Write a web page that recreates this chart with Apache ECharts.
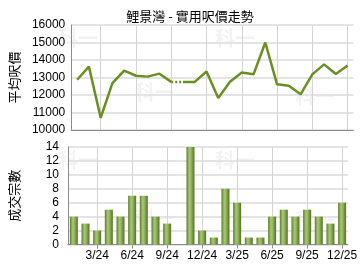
<!DOCTYPE html>
<html><head><meta charset="utf-8">
<script src="https://cdn.jsdelivr.net/npm/echarts@6/dist/echarts.min.js"></script>
<style>html,body{margin:0;padding:0;background:#fff}#c{width:360px;height:270px}</style>
</head><body><div id="c"></div>
<script>
const months = ['1/24','2/24','3/24','4/24','5/24','6/24','7/24','8/24','9/24','10/24','11/24','12/24',
                '1/25','2/25','3/25','4/25','5/25','6/25','7/25','8/25','9/25','10/25','11/25','12/25'];
const price = [12870,13620,10700,12680,13390,13100,13050,13220,12750,12750,12750,13340,
               11830,12760,13280,13180,15000,12610,12530,12040,13180,13750,13200,13680];
const deals = [4,3,2,5,4,7,7,4,3,0,14,2,1,8,6,1,1,4,5,4,5,4,3,6];
const tickLabels = ['3/24','6/24','9/24','12/24','3/25','6/25','9/25','12/25'];
const gapIndex = 9; // month shown with dotted segment (no deals)

const solidA = price.map((v,i)=> i < gapIndex ? v : null);
const solidB = price.map((v,i)=> i >= gapIndex ? v : null);
const dotted = price.map((v,i)=> (i === gapIndex-1 || i === gapIndex) ? v : null);

const chart = echarts.init(document.getElementById('c'), null, {renderer:'canvas'});
const font = 'Liberation Sans, Arial, sans-serif';
const showLabel = (i, v) => tickLabels.indexOf(v) >= 0;
const splitIdx = (i, v) => tickLabels.indexOf(months[i]) >= 0;

const xCommon = {
  type:'category', data: months, boundaryGap:true,
  axisLine:{show:true, lineStyle:{color:'#8c8c8c', width:1}},
  splitLine:{show:true, alignWithLabel:true, interval: splitIdx, lineStyle:{color:'#d4d4d4', width:1}},
};
const wm = (x,y)=>({type:'text', left:x, top:y, z:0, silent:true,
  style:{text:'科一', fill:'rgba(0,0,0,0.05)', font:'bold 20px "Noto Sans CJK TC"'}});

chart.setOption({
  animation:false,
  title:{text:'鯉景灣 - 實用呎價走勢', left:185, textAlign:'center', top:5,
    textStyle:{fontFamily:'"Noto Sans CJK TC", sans-serif', fontSize:13, fontWeight:'normal', color:'#000'}},
  graphic:[wm(58,28), wm(215,28), wm(135,82), wm(295,86), wm(58,150), wm(215,150), wm(135,208), wm(295,210)],
  grid:[
    {left:68, right:6.5, top:25, height:105},
    {left:68, right:6.5, top:147, height:97.5}
  ],
  xAxis:[
    Object.assign({gridIndex:0, axisTick:{show:false}, axisLabel:{show:false}}, xCommon),
    Object.assign({gridIndex:1,
      axisTick:{show:true, alignWithLabel:true, interval: splitIdx, length:4, lineStyle:{color:'#8c8c8c'}},
      axisLabel:{show:true, interval: showLabel, fontSize:12, fontFamily:font, color:'#000', margin:5}}, xCommon)
  ],
  yAxis:[
    {gridIndex:0, type:'value', min:10000, max:16000, interval:1000,
     name:'平均呎價', nameLocation:'middle', nameGap:47, nameRotate:90,
     nameTextStyle:{fontFamily:'"Noto Sans CJK TC", sans-serif', fontSize:13, color:'#000'},
     axisLine:{show:true, lineStyle:{color:'#8c8c8c'}}, axisTick:{show:false},
     axisLabel:{fontSize:12, fontFamily:font, color:'#000', margin:6, formatter:(v)=>String(v)},
     splitLine:{lineStyle:{color:'#e4e4e4', width:2}}},
    {gridIndex:1, type:'value', min:0, max:14, interval:2,
     name:'成交宗數', nameLocation:'middle', nameGap:47, nameRotate:90,
     nameTextStyle:{fontFamily:'"Noto Sans CJK TC", sans-serif', fontSize:13, color:'#000'},
     axisLine:{show:true, lineStyle:{color:'#8c8c8c'}}, axisTick:{show:false},
     axisLabel:{fontSize:12, fontFamily:font, color:'#000', margin:9},
     splitLine:{lineStyle:{color:'#e4e4e4', width:2}}}
  ],
  series:[
    {type:'line', xAxisIndex:0, yAxisIndex:0, data:solidA, symbol:'none', connectNulls:false,
     lineStyle:{color:'#6b8e23', width:2.5}},
    {type:'line', xAxisIndex:0, yAxisIndex:0, data:solidB, symbol:'none', connectNulls:false,
     lineStyle:{color:'#6b8e23', width:2.5}},
    {type:'line', xAxisIndex:0, yAxisIndex:0, data:dotted, symbol:'none', connectNulls:false,
     lineStyle:{color:'#6b8e23', width:2.5, type:[2,2]}},
    {type:'bar', xAxisIndex:1, yAxisIndex:1, data:deals, barWidth:8,
     itemStyle:{color:new echarts.graphic.LinearGradient(0,0,1,0,[
       {offset:0, color:'#5a7d22'},{offset:0.35, color:'#a8c47a'},{offset:0.55, color:'#98b866'},{offset:1, color:'#4f7418'}])}}
  ]
});
</script></body></html>
